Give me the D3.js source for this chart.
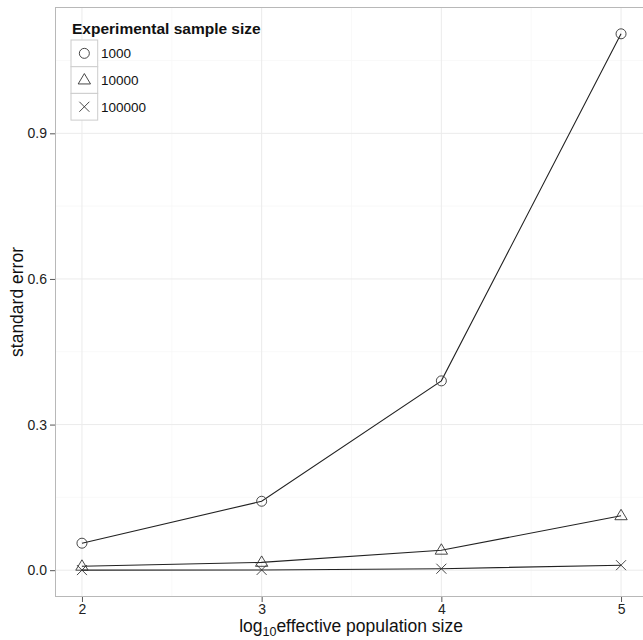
<!DOCTYPE html>
<html>
<head>
<meta charset="utf-8">
<script src="https://cdn.jsdelivr.net/npm/d3@7"></script>
<style>
  body { margin: 0; background: #fff; }
  svg { font-family: "Liberation Sans", Arial, sans-serif; }
</style>
</head>
<body>
<div id="chart"></div>
<script>
// data
const popSizes = [2, 3, 4, 5];                      // log10 effective population size
const sampleSizes = ["1000", "10000", "100000"];
const se1000 = [0.0556, 0.142, 0.390, 1.105];
const se10000 = [0.008, 0.016, 0.041, 0.112];
const se100000 = [0.0002, 0.0005, 0.003, 0.0103];
const xTicks = [2, 3, 4, 5];
const yTicks = [0.0, 0.3, 0.6, 0.9];

const width = 643, height = 640;
const margin = {top: 7, right: -5, bottom: 43, left: 55};

const series = [
  {name: sampleSizes[0], shape: "circle", values: se1000},
  {name: sampleSizes[1], shape: "triangle", values: se10000},
  {name: sampleSizes[2], shape: "cross", values: se100000}
];

const svg = d3.select("#chart")
  .append("svg")
    .attr("width", width)
    .attr("height", height);

// ggplot style expansion on both axes
const yMax = d3.max(se1000);
const x = d3.scaleLinear()
  .domain([2 - 0.15, 5 + 0.15])
  .range([margin.left, width - margin.right]);
const y = d3.scaleLinear()
  .domain([-yMax * 0.05, yMax * 1.05])
  .range([height - margin.bottom, margin.top]);

const pw = x.range()[1] - x.range()[0];
const ph = y.range()[0] - y.range()[1];

// panel
svg.append("rect")
  .attr("x", margin.left).attr("y", margin.top)
  .attr("width", pw).attr("height", ph)
  .attr("fill", "#fff");

// minor grid
const grid = svg.append("g");
[2.5, 3.5, 4.5].forEach(v => {
  grid.append("line")
    .attr("x1", x(v)).attr("x2", x(v))
    .attr("y1", margin.top).attr("y2", margin.top + ph)
    .attr("stroke", "#f7f7f7").attr("stroke-width", 0.8);
});
[0.15, 0.45, 0.75, 1.05].forEach(v => {
  grid.append("line")
    .attr("x1", margin.left).attr("x2", margin.left + pw)
    .attr("y1", y(v)).attr("y2", y(v))
    .attr("stroke", "#f7f7f7").attr("stroke-width", 0.8);
});
// major grid
xTicks.forEach(v => {
  grid.append("line")
    .attr("x1", x(v)).attr("x2", x(v))
    .attr("y1", margin.top).attr("y2", margin.top + ph)
    .attr("stroke", "#ebebeb").attr("stroke-width", 1);
});
yTicks.forEach(v => {
  grid.append("line")
    .attr("x1", margin.left).attr("x2", margin.left + pw)
    .attr("y1", y(v)).attr("y2", y(v))
    .attr("stroke", "#ebebeb").attr("stroke-width", 1);
});

// axes
const xAxis = svg.append("g")
  .attr("transform", `translate(0,${margin.top + ph})`)
  .call(d3.axisBottom(x).tickValues(xTicks).tickFormat(d3.format("d")).tickSizeOuter(0).tickSize(5).tickPadding(2));
const yAxis = svg.append("g")
  .attr("transform", `translate(${margin.left},0)`)
  .call(d3.axisLeft(y).tickValues(yTicks).tickFormat(d3.format(".1f")).tickSizeOuter(0).tickSize(5).tickPadding(3));
[xAxis, yAxis].forEach(a => {
  a.select(".domain").remove();
  a.selectAll(".tick line").attr("stroke", "#555");
  a.selectAll(".tick text").attr("fill", "#222").style("font-size", "14px");
});

// lines + markers
const line = d3.line()
  .x((d, i) => x(popSizes[i]))
  .y(d => y(d));

function drawShape(g, shape, cx, cy) {
  if (shape === "circle") {
    g.append("circle").attr("cx", cx).attr("cy", cy).attr("r", 5)
      .attr("fill", "none").attr("stroke", "#333").attr("stroke-width", 0.9);
  } else if (shape === "triangle") {
    const s = 6.5;
    g.append("path")
      .attr("d", `M${cx},${cy - s} L${cx + s * 0.95},${cy + s * 0.6} L${cx - s * 0.95},${cy + s * 0.6}Z`)
      .attr("fill", "none").attr("stroke", "#333").attr("stroke-width", 0.9);
  } else {
    const s = 5;
    g.append("path")
      .attr("d", `M${cx - s},${cy - s} L${cx + s},${cy + s} M${cx - s},${cy + s} L${cx + s},${cy - s}`)
      .attr("fill", "none").attr("stroke", "#333").attr("stroke-width", 0.9);
  }
}

const plot = svg.append("g");
series.forEach(s => {
  plot.append("path")
    .datum(s.values)
    .attr("d", line)
    .attr("fill", "none")
    .attr("stroke", "#222")
    .attr("stroke-width", 1.1);
});
series.forEach(s => {
  s.values.forEach((v, i) => drawShape(plot, s.shape, x(popSizes[i]), y(v)));
});

// panel border
svg.append("rect")
  .attr("x", margin.left + 0.5).attr("y", margin.top + 0.5)
  .attr("width", pw).attr("height", ph - 1)
  .attr("fill", "none").attr("stroke", "#b8b8b8").attr("stroke-width", 1);

// axis titles
svg.append("text")
  .attr("transform", `translate(23,${margin.top + ph / 2}) rotate(-90)`)
  .attr("text-anchor", "middle")
  .style("font-size", "17.5px")
  .attr("fill", "#111")
  .text("standard error");

const xt = svg.append("text")
  .attr("x", 351)
  .attr("y", 632)
  .attr("text-anchor", "middle")
  .style("font-size", "17.5px")
  .attr("fill", "#111");
xt.append("tspan").text("log");
xt.append("tspan").attr("dy", 4).style("font-size", "12.5px").text("10");
xt.append("tspan").attr("dy", -4).text("effective population size");

// legend
const legend = svg.append("g");
legend.append("text")
  .attr("x", 72).attr("y", 34)
  .style("font-size", "15.5px")
  .style("font-weight", "bold")
  .attr("fill", "#111")
  .text("Experimental sample size");

const keySize = 26.7;
series.forEach((s, i) => {
  const ky = 40 + i * keySize;
  legend.append("rect")
    .attr("x", 71).attr("y", ky)
    .attr("width", keySize).attr("height", keySize)
    .attr("fill", "#fff").attr("stroke", "#ccc").attr("stroke-width", 1);
  drawShape(legend, s.shape, 71 + keySize / 2, ky + keySize / 2);
  legend.append("text")
    .attr("x", 101).attr("y", ky + keySize / 2 + 5)
    .style("font-size", "13.5px")
    .attr("fill", "#111")
    .text(s.name);
});
</script>
</body>
</html>
